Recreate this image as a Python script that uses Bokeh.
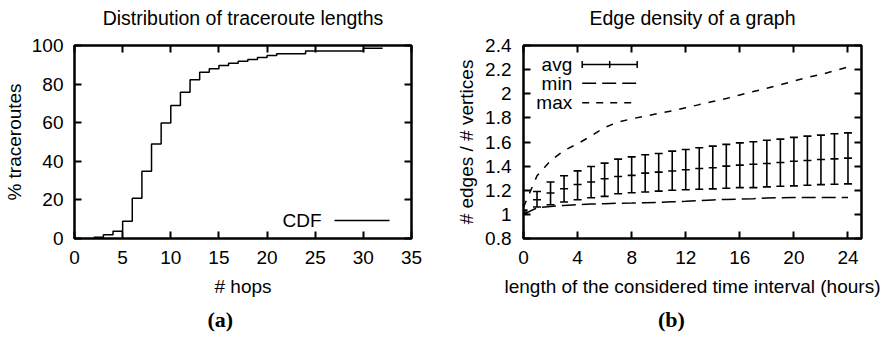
from bokeh.plotting import figure
from bokeh.models import (Range1d, LinearAxis, FixedTicker, Whisker,
                          TeeHead, ColumnDataSource, Label, Arrow, CustomJSTickFormatter, Title)
from bokeh.layouts import row
from bokeh.embed import file_html
from bokeh.resources import INLINE

FONT = "Liberation Sans"

# ---------------- data: (a) traceroute length CDF ----------------
hops = [2, 3, 4, 5, 6, 7, 8, 9, 10, 11, 12, 13, 14, 15, 16, 17, 18, 19, 20, 21, 24, 30, 32]
cdf_pct = [0.7, 1.9, 3.8, 9.0, 20.9, 34.9, 48.9, 59.9, 68.9, 75.8, 82.2, 86.2, 87.9,
           89.6, 90.8, 91.9, 92.7, 93.8, 94.8, 95.7, 97.1, 98.6, 98.6]
a_xticks = [0, 5, 10, 15, 20, 25, 30, 35]
a_yticks = [0, 20, 40, 60, 80, 100]

# ---------------- data: (b) edge density ----------------
hours = list(range(25))
avg = [1.02, 1.121, 1.177, 1.212, 1.248, 1.268, 1.295, 1.314, 1.323, 1.342, 1.35, 1.359,
       1.37, 1.38, 1.386, 1.40, 1.408, 1.416, 1.422, 1.43, 1.441, 1.447, 1.455, 1.46, 1.466]
avg_hi = [1.035, 1.19, 1.268, 1.32, 1.361, 1.397, 1.425, 1.458, 1.477, 1.494, 1.505, 1.524,
          1.538, 1.552, 1.566, 1.58, 1.593, 1.602, 1.615, 1.624, 1.638, 1.649, 1.657, 1.668, 1.676]
avg_lo = [1.005, 1.061, 1.08, 1.102, 1.121, 1.138, 1.149, 1.171, 1.179, 1.185, 1.193, 1.2,
          1.204, 1.208, 1.211, 1.217, 1.222, 1.222, 1.228, 1.233, 1.236, 1.242, 1.247, 1.25, 1.253]
min_ratio = [1.0, 1.055, 1.066, 1.074, 1.08, 1.085, 1.089, 1.092, 1.094, 1.097, 1.1, 1.104,
             1.108, 1.115, 1.12, 1.124, 1.127, 1.13, 1.136, 1.138, 1.139, 1.139, 1.139, 1.139, 1.14]
max_ratio = [1.06, 1.32, 1.445, 1.53, 1.585, 1.65, 1.72, 1.765, 1.792, 1.815, 1.837, 1.858,
             1.884, 1.91, 1.935, 1.96, 1.99, 2.018, 2.045, 2.075, 2.105, 2.135, 2.16, 2.19, 2.222]
b_xticks = [0, 4, 8, 12, 16, 20, 24]
b_yticks = [0.8, 1.0, 1.2, 1.4, 1.6, 1.8, 2.0, 2.2, 2.4]

TXT = "19px"


def setup_axes(p, xticks, yticks, xlabel, ylabel, ystand, ylab_stand, title, yfmt=None):
    common = dict(major_tick_in=7, major_tick_out=0, major_tick_line_width=2,
                  major_tick_line_color="black", minor_tick_line_color=None,
                  axis_line_color=None)
    lab = dict(major_label_text_font=FONT, major_label_text_font_size=TXT,
               major_label_text_color="black", axis_label_text_font=FONT,
               axis_label_text_font_size=TXT, axis_label_text_font_style="normal",
               axis_label_text_color="black")
    xb = LinearAxis(ticker=FixedTicker(ticks=xticks), axis_label=xlabel,
                    major_label_standoff=12, axis_label_standoff=9, **common, **lab)
    yl = LinearAxis(ticker=FixedTicker(ticks=yticks), axis_label=ylabel,
                    major_label_standoff=ystand, axis_label_standoff=ylab_stand,
                    **common, **lab)
    if yfmt is not None:
        yl.formatter = yfmt
    # mirrored tick marks (no tick labels), gnuplot style; the top one carries the title
    xt = LinearAxis(ticker=FixedTicker(ticks=xticks), major_label_text_color=None,
                    major_label_standoff=0, axis_label=title, axis_label_standoff=17,
                    axis_label_text_font=FONT, axis_label_text_font_size="19.5px",
                    axis_label_text_font_style="normal", axis_label_text_color="black",
                    **common)
    yr = LinearAxis(ticker=FixedTicker(ticks=yticks), major_label_text_color=None,
                    major_label_standoff=0, **common)
    p.add_layout(xb, "below")
    p.add_layout(yl, "left")
    p.add_layout(xt, "above")
    p.add_layout(yr, "right")


def base_fig(width, xr, yr, left, right):
    p = figure(width=width, height=337, output_backend="svg", toolbar_location=None,
               x_range=Range1d(*xr), y_range=Range1d(*yr),
               x_axis_location=None, y_axis_location=None,
               min_border_left=left, min_border_right=right,
               min_border_top=45, min_border_bottom=99,
               background_fill_color="white", border_fill_color="white")
    p.grid.visible = False
    p.outline_line_color = "black"
    p.outline_line_width = 2.5
    return p


def caption(p, offset, text):
    p.add_layout(Title(text=text, align="left", offset=offset, standoff=10,
                       text_font="Liberation Serif", text_font_size="22px",
                       text_font_style="bold", text_color="black"), "below")


# ---------------- figure (a) ----------------
pa = base_fig(440, (0, 35), (0, 100), 73, 29)
setup_axes(pa, a_xticks, a_yticks, "# hops", "% traceroutes", 11, 4,
           "Distribution of traceroute lengths")
pa.step(hops, cdf_pct, mode="after", line_color="black", line_width=1.5)
pa.add_layout(Label(x=247, y=18, x_units="screen", y_units="screen", text="CDF",
                    text_align="right", text_baseline="middle", text_font=FONT,
                    text_font_size=TXT, text_color="black"))
pa.add_layout(Arrow(x_start=260, y_start=18, x_end=315, y_end=18, start_units="screen",
                    end_units="screen", start=None, end=None, line_color="black",
                    line_width=1.5))
caption(pa, 133, "(a)")

# ---------------- figure (b) ----------------
fmt = CustomJSTickFormatter(code="return String(Math.round(tick * 10) / 10);")
pb = base_fig(442, (0, 25), (0.8, 2.4), 83, 21)
setup_axes(pb, b_xticks, b_yticks, "length of the considered time interval (hours)",
           "# edges / # vertices", 12, 5, "Edge density of a graph", yfmt=fmt)
src = ColumnDataSource(dict(h=hours, avg=avg, lo=avg_lo, hi=avg_hi))
pb.add_layout(Whisker(source=src, base="h", upper="hi", lower="lo", dimension="height",
                      line_color="black", line_width=1.6,
                      upper_head=TeeHead(size=8, line_color="black", line_width=1.6),
                      lower_head=TeeHead(size=8, line_color="black", line_width=1.6)))
pb.scatter("h", "avg", source=src, marker="dash", size=8, line_color="black", line_width=1.6)
pb.line(hours, min_ratio, line_color="black", line_width=1.5, line_dash="14 6")
pb.line(hours, max_ratio, line_color="black", line_width=1.5, line_dash="7 8")

# legend (b), drawn gnuplot-style: text on the left, sample on the right
leg_rows = [("avg", 174), ("min", 155.3), ("max", 135.7)]
for name, yy in leg_rows:
    pb.add_layout(Label(x=48.7, y=yy, x_units="screen", y_units="screen", text=name,
                        text_align="right", text_baseline="middle", text_font=FONT,
                        text_font_size=TXT, text_color="black"))
pb.add_layout(Arrow(x_start=58.7, y_start=174, x_end=113.7, y_end=174, start_units="screen",
                    end_units="screen", line_color="black", line_width=1.5,
                    start=TeeHead(size=7, line_color="black", line_width=1.5),
                    end=TeeHead(size=7, line_color="black", line_width=1.5)))
pb.add_layout(Arrow(x_start=86.2, y_start=170.5, x_end=86.2, y_end=177.5, start_units="screen",
                    end_units="screen", start=None, end=None, line_color="black",
                    line_width=1.5))
pb.add_layout(Arrow(x_start=58.7, y_start=155.3, x_end=113.7, y_end=155.3, start_units="screen",
                    end_units="screen", start=None, end=None, line_color="black",
                    line_width=1.5, line_dash="14 6"))
pb.add_layout(Arrow(x_start=58.7, y_start=135.7, x_end=113.7, y_end=135.7, start_units="screen",
                    end_units="screen", start=None, end=None, line_color="black",
                    line_width=1.5, line_dash="7 7"))
caption(pb, 134.5, "(b)")

layout = row(pa, pb)
open("out.html", "w").write(file_html(layout, INLINE))
